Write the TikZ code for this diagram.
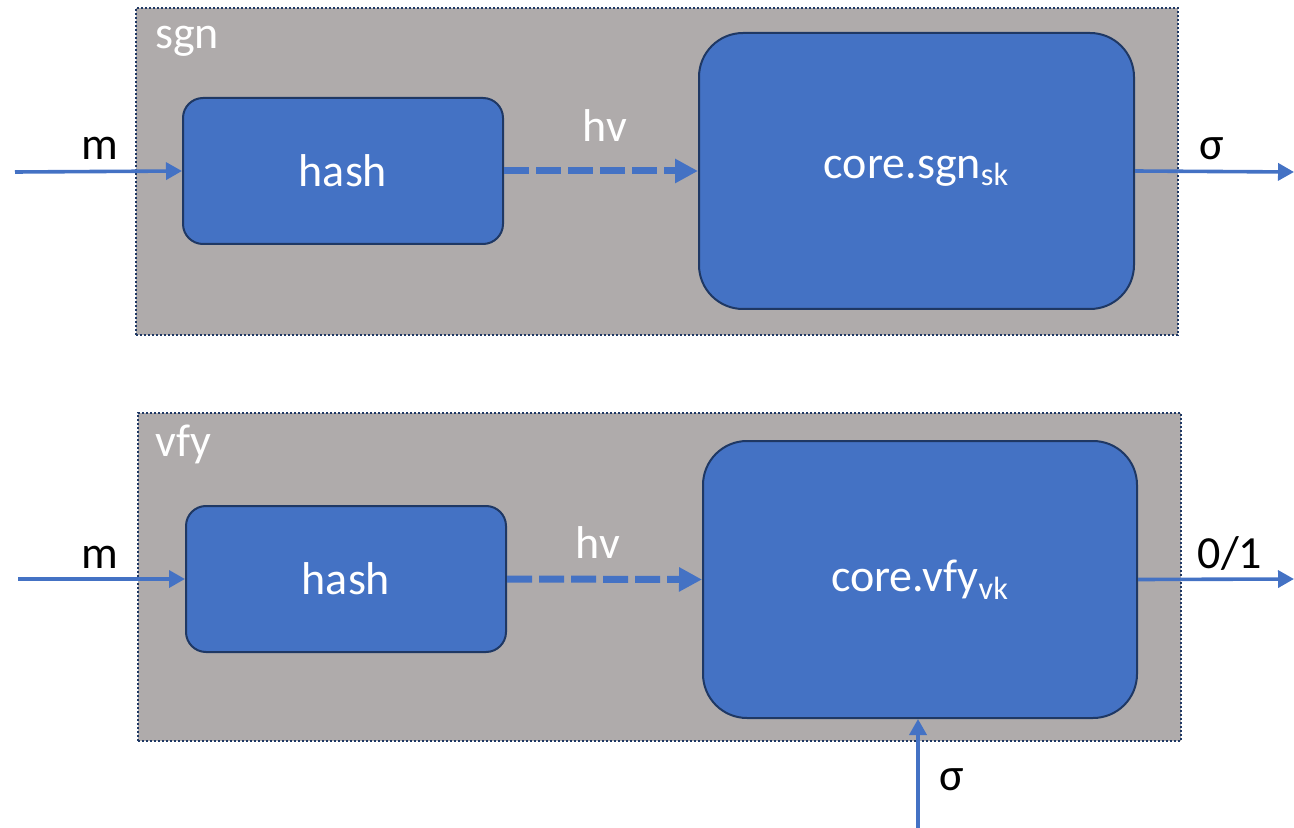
\documentclass[tikz,border=0pt]{standalone}
\usepackage{fontspec}
\setmainfont{Carlito}
\usetikzlibrary{arrows.meta}
\definecolor{boxblue}{HTML}{4472C4}
\definecolor{boxedge}{HTML}{1F3864}
\definecolor{panelgray}{HTML}{AFABAB}
\begin{document}
\begin{tikzpicture}[x=0.5pt, y=-0.5pt, font=\fontsize{23}{27}\selectfont,
    panel/.style={fill=panelgray, draw=boxedge, line width=1pt, dash pattern=on 1pt off 1pt, inner sep=0pt},
    block/.style={fill=boxblue, draw=boxedge, line width=1pt, text=white, inner sep=0pt},
    flow/.style={draw=boxblue, line width=1.8pt, -{Triangle[length=8pt, width=8.5pt]}},
    hashflow/.style={draw=boxblue, line width=3.5pt, dash pattern=on 12.5pt off 3.5pt, -{Triangle[length=11.5pt, width=11.5pt]}}]
  \useasboundingbox (0,0) rectangle (1294,828);
  % signing
  \node[panel, minimum width=521pt, minimum height=163.5pt] (sgnbox) at (657,171.5) {};
  \node[text=white, anchor=base west] (sgnlbl) at (148,49) {sgn};
  \node[block, rounded corners=10pt, minimum width=160pt, minimum height=73pt] (hash1) at (343,171) {hash};
  \node[block, rounded corners=22pt, minimum width=217.5pt, minimum height=138pt] (core1) at (916.5,171) {core.sgn\textsubscript{sk}};
  \coordinate (m1) at (15,172);
  \coordinate (s1) at (1294,172);
  \draw[flow] (m1) -- (hash1.west);
  \draw[hashflow] (hash1.east) -- (core1.west);
  \draw[flow] (core1.east) -- (s1);
  \node[anchor=base] (m1lbl) at (100,160) {m};
  \node[text=white, anchor=base] (hv1lbl) at (605,142) {hv};
  \node[anchor=base] (s1lbl) at (1212,160) {σ};
  % verification
  \node[panel, minimum width=521.5pt, minimum height=164pt] (vfybox) at (659.5,577) {};
  \node[text=white, anchor=base west] (vfylbl) at (148,456) {vfy};
  \node[block, rounded corners=10pt, minimum width=160pt, minimum height=73pt] (hash2) at (346,579) {hash};
  \node[block, rounded corners=22pt, minimum width=217pt, minimum height=138.5pt] (core2) at (920,579.5) {core.vfy\textsubscript{vk}};
  \coordinate (m2) at (18,579);
  \coordinate (b2) at (1294,579);
  \coordinate (s2) at (918,828);
  \draw[flow] (m2) -- (hash2.west);
  \draw[hashflow] (hash2.east) -- (core2.west);
  \draw[flow] (core2.east) -- (b2);
  \draw[flow] (s2) -- (core2.south -| s2);
  \node[anchor=base] (m2lbl) at (100,568) {m};
  \node[text=white, anchor=base] (hv2lbl) at (598,558) {hv};
  \node[anchor=base] (b2lbl) at (1230,568) {0/1};
  \node[anchor=base] (s2lbl) at (952,790) {σ};
\end{tikzpicture}
\end{document}
